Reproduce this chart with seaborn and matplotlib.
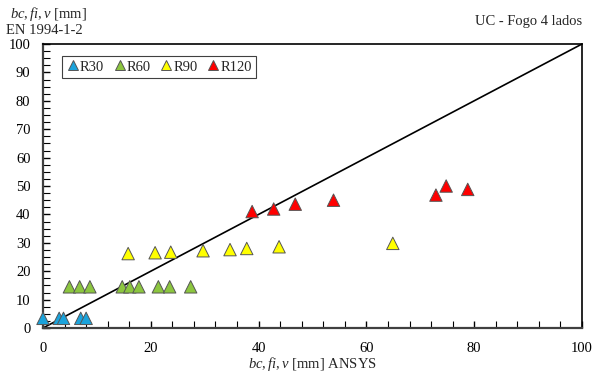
import numpy as np
import pandas as pd
import matplotlib
matplotlib.use("Agg")
import matplotlib.pyplot as plt
import seaborn as sns
from matplotlib.ticker import MultipleLocator

# Data
r30_x = [0.0, 3.0, 3.8, 7.0, 8.0]
r30_y = [3.4, 3.4, 3.4, 3.4, 3.4]
r60_x = [4.9, 6.8, 8.7, 14.7, 16.1, 17.8, 21.4, 23.5, 27.4]
r60_y = [14.5, 14.5, 14.5, 14.5, 14.5, 14.5, 14.5, 14.5, 14.5]
r90_x = [15.8, 20.8, 23.7, 29.7, 34.7, 37.8, 43.8, 64.9]
r90_y = [26.2, 26.5, 26.7, 27.2, 27.6, 28.0, 28.6, 29.8]
r120_x = [38.8, 42.8, 46.8, 53.9, 72.9, 74.8, 78.8]
r120_y = [41.0, 41.9, 43.6, 45.0, 46.8, 50.0, 48.8]
series = ["R30", "R60", "R90", "R120"]
colors = ["#1AA3DC", "#8CC63F", "#FFFF00", "#FF0000"]
x_ticks = [0, 20, 40, 60, 80, 100]
y_ticks = [0, 10, 20, 30, 40, 50, 60, 70, 80, 90, 100]

df = pd.concat([
    pd.DataFrame({"x": r30_x, "y": r30_y, "s": "R30"}),
    pd.DataFrame({"x": r60_x, "y": r60_y, "s": "R60"}),
    pd.DataFrame({"x": r90_x, "y": r90_y, "s": "R90"}),
    pd.DataFrame({"x": r120_x, "y": r120_y, "s": "R120"}),
], ignore_index=True)

sns.set_style("white")
plt.rcParams["font.family"] = ["Liberation Serif", "DejaVu Serif"]
plt.rcParams["mathtext.fontset"] = "custom"
plt.rcParams["mathtext.it"] = "Liberation Serif:italic"
plt.rcParams["mathtext.rm"] = "Liberation Serif"

fig = plt.figure(figsize=(5.93, 3.78), dpi=100)
ax = fig.add_axes([43/593, 1-328/378, (582-43)/593, (328-44)/378])

ax.plot([0, 100], [0, 100], color="black", lw=1.2, zorder=1)
sns.scatterplot(data=df, x="x", y="y", hue="s", hue_order=series,
                palette=dict(zip(series, colors)), marker="^", s=80,
                edgecolor="#555555", linewidth=0.7, ax=ax, zorder=3)
for coll in ax.collections:
    coll.set_clip_on(False)

ax.set_xlim(0, 100)
ax.set_ylim(0, 100)
ax.set_xticks(x_ticks)
ax.set_yticks(y_ticks)
ax.xaxis.set_minor_locator(MultipleLocator(4))
ax.yaxis.set_minor_locator(MultipleLocator(2.5))
ax.tick_params(axis="both", which="both", direction="in", labelsize=10.5,
               colors="black", left=True, bottom=True)
ax.tick_params(axis="both", which="major", length=5, width=1)
ax.tick_params(axis="both", which="minor", length=5, width=0.8)
ax.tick_params(axis="x", pad=10)
ax.tick_params(axis="y", pad=9)
for sp in ax.spines.values():
    sp.set_visible(True)
    sp.set_color("black")
    sp.set_linewidth(1.2)
ax.spines["left"].set_color("#404040")
ax.spines["bottom"].set_color("#404040")
ax.spines["left"].set_linewidth(1.6)
ax.spines["bottom"].set_linewidth(1.6)

ax.set_xlabel(r"$\mathit{bc,fi,v}$ [mm] ANSYS", fontsize=10.5, labelpad=0)
ax.set_ylabel("")

fig.text(10/593, 1-14/378, r"$\mathit{bc,fi,v}$ [mm]", fontsize=10.5, ha="left", va="center")
fig.text(6/593, 1-30/378, "EN 1994-1-2", fontsize=10.5, ha="left", va="center")
fig.text(582/593, 1-22/378, "UC - Fogo 4 lados", fontsize=10.5, ha="right", va="center")

leg = ax.legend(loc="upper left", bbox_to_anchor=(0.035, 0.958), ncol=4,
                fontsize=10.5, frameon=True, fancybox=False, framealpha=1,
                edgecolor="#404040", handletextpad=0.05, columnspacing=0.6,
                borderpad=0.3, borderaxespad=0, markerscale=0.75,
                handlelength=0.9)
leg.get_frame().set_linewidth(0.8)

fig.savefig("out.png", dpi=100)
